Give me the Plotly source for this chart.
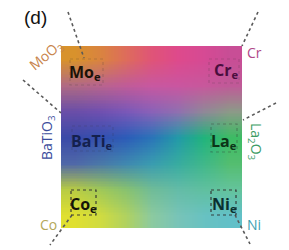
import base64, struct, zlib
import plotly.graph_objects as go

# colour samples (rows top->bottom, cols left->right)
grid_colors = [
    ['#d8922c', '#da8440', '#de6c5c', '#e05478', '#de4a8c', '#d64a94', '#c84e96'],
    ['#b06a84', '#b8648e', '#c05c98', '#c858a0', '#ca56a0', '#c8589c', '#c05a98'],
    ['#6a4ea8', '#7050b0', '#7a58b8', '#8a62b8', '#9070b0', '#908898', '#8c9a88'],
    ['#3a4aa8', '#3450b0', '#2c5cb8', '#2a74b8', '#229aa8', '#20b47c', '#3cbc64'],
    ['#5068a8', '#4a78a8', '#4088b0', '#3a9cb0', '#38aca0', '#40b88a', '#54be70'],
    ['#b8cc44', '#a0c858', '#88c270', '#70bc98', '#64bca8', '#60c0a0', '#64c49c'],
    ['#e0e030', '#d0dc40', '#b0d260', '#8ccaa0', '#78c4b8', '#68c2c2', '#62c0c8'],
]

inner_names = ['Mo', 'Cr', 'BaTi', 'La', 'Co', 'Ni']
inner_sub = 'e'
outer_labels = ['MoO<sub>3</sub>', 'Cr', 'BaTiO<sub>3</sub>', 'La<sub>2</sub>O<sub>3</sub>', 'Co', 'Ni']
panel_label = '(d)'


def hex2rgb(h):
    h = h.lstrip('#')
    return tuple(int(h[i:i + 2], 16) for i in (0, 2, 4))


def png_uri(rows):
    h = len(rows)
    w = len(rows[0])
    raw = b''
    for r in rows:
        raw += b'\x00' + bytes([c for px in r for c in hex2rgb(px)])

    def chunk(tag, data):
        c = struct.pack('>I', len(data)) + tag + data
        return c + struct.pack('>I', zlib.crc32(tag + data) & 0xffffffff)

    png = b'\x89PNG\r\n\x1a\n'
    png += chunk(b'IHDR', struct.pack('>IIBBBBB', w, h, 8, 2, 0, 0, 0))
    png += chunk(b'IDAT', zlib.compress(raw, 9))
    png += chunk(b'IEND', b'')
    return 'data:image/png;base64,' + base64.b64encode(png).decode()


# square map area in pixel coordinates
X0, X1, Y0, Y1 = 61, 242, 46, 228
ncol = len(grid_colors[0])
nrow = len(grid_colors)
dx = (X1 - X0) / ncol
dy = (Y1 - Y0) / nrow

fig = go.Figure()
fig.add_trace(go.Image(source=png_uri(grid_colors), x0=X0 + dx / 2, y0=Y0 + dy / 2,
                       dx=dx, dy=dy, zsmooth='fast', hoverinfo='skip'))

line_style = dict(color='#5a5a5a', width=1.6, dash='dot')
box_style = dict(color='#303030', width=1.2, dash='dot')
# dotted leader lines
for (xa, ya, xb, yb) in [(68, 12, 84, 58), (23, 80, 61, 113), (258, 12, 242, 46),
                         (276, 103, 243, 120), (72, 215, 50, 245), (235, 215, 250, 244)]:
    fig.add_shape(type='line', x0=xa, y0=ya, x1=xb, y1=yb, line=line_style)
# dotted boxes around element markers
for (xa, ya, xb, yb, op) in [(70, 59, 103, 85, 0.2), (209, 59, 239, 83, 0.18),
                              (72, 126, 113, 151, 0.18), (211, 124, 237, 152, 0.35),
                              (71, 190, 96, 215, 0.9), (211, 190, 236, 215, 0.9)]:
    fig.add_shape(type='rect', x0=xa, y0=ya, x1=xb, y1=yb, line=box_style, opacity=op)

inner_pos = [(85, 72), (226, 70), (92, 141), (224, 141), (83, 204), (224, 204)]
inner_cols = ['#1a1208', '#4a0e3e', '#14204e', '#0c3418', '#141408', '#0a3030']
for name, (x, y), c in zip(inner_names, inner_pos, inner_cols):
    fig.add_annotation(x=x, y=y, text='<b>%s<sub>%s</sub></b>' % (name, inner_sub),
                       showarrow=False, font=dict(family='Open Sans', size=16, color=c))

outer_pos = [(46, 55, -40), (254, 52, 0), (47, 138, -90), (256, 142, 90), (48, 224, 0), (254, 224, 0)]
outer_cols = ['#c8844c', '#b04888', '#3a4c9c', '#3c9c64', '#b4a858', '#40a0b0']
for lab, (x, y, ang), c in zip(outer_labels, outer_pos, outer_cols):
    fig.add_annotation(x=x, y=y, text=lab, textangle=ang, showarrow=False,
                       font=dict(family='Open Sans', size=14, color=c))

fig.add_annotation(x=35, y=17, text=panel_label, showarrow=False,
                   font=dict(family='Liberation Sans', size=19, color='#111111'))

fig.update_xaxes(range=[0, 289], visible=False)
fig.update_yaxes(range=[250, 0], visible=False, autorange=False)
fig.update_layout(width=289, height=250, margin=dict(l=0, r=0, t=0, b=0),
                  plot_bgcolor='white', paper_bgcolor='white', showlegend=False)
fig.write_html('out.html', config={'displayModeBar': False, 'staticPlot': True},
               post_script="document.body.style.margin='0';")
